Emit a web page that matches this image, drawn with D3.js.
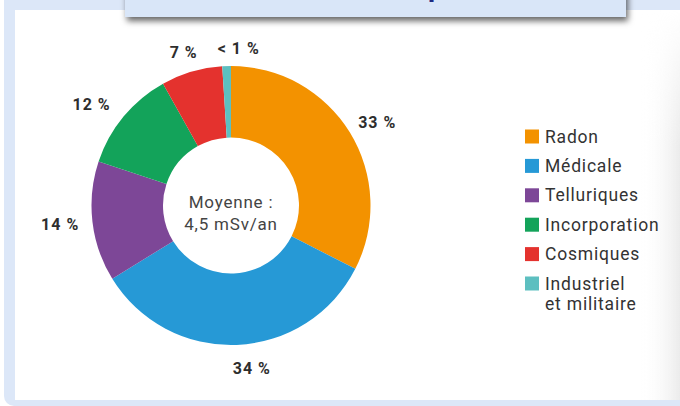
<!DOCTYPE html>
<html><head><meta charset="utf-8">
<script src="https://cdn.jsdelivr.net/npm/d3@7"></script>
<style>html,body{margin:0;padding:0;background:#fff;}svg{display:block;}</style>
</head><body>
<svg id="chart" width="680" height="406"></svg>
<script>
const categories = ["Radon", "Médicale", "Telluriques", "Incorporation", "Cosmiques", "Industriel et militaire"];
const values = [32.5, 33.7, 13.9, 11.8, 7.1, 1.0];
const valueLabels = ["33 %", "34 %", "14 %", "12 %", "7 %", "< 1 %"];
const legendLines = [["Radon"], ["Médicale"], ["Telluriques"], ["Incorporation"], ["Cosmiques"], ["Industriel", "et militaire"]];
const colors = ["#f39200", "#2699d6", "#7d4797", "#13a35a", "#e4322e", "#5dbfc0"];
const centerLines = ["Moyenne :", "4,5 mSv/an"];
const titleText = "Sources d'exposition";

// label nudges (layout only)
const labelNudge = [[3, 5], [14, -5], [-4, 0], [-10, 6], [0, 8], [13, 11]];

const svg = d3.select("#chart");
const defs = svg.append("defs");
const shadow = defs.append("filter").attr("id", "sh").attr("x", "-10%").attr("y", "-50%").attr("width", "120%").attr("height", "250%");
shadow.append("feDropShadow").attr("dx", 2).attr("dy", 4).attr("stdDeviation", 3).attr("flood-color", "#000").attr("flood-opacity", 0.6);
const grad = defs.append("linearGradient").attr("id", "rg").attr("x1", 0).attr("x2", 1).attr("y1", 0).attr("y2", 0);
grad.append("stop").attr("offset", 0).attr("stop-color", "#fff").attr("stop-opacity", 0);
grad.append("stop").attr("offset", 1).attr("stop-color", "#ebebeb").attr("stop-opacity", 1);
const vgrad = defs.append("linearGradient").attr("id", "vg").attr("x1", 0).attr("x2", 0).attr("y1", 0).attr("y2", 1);
vgrad.append("stop").attr("offset", 0).attr("stop-color", "#fff").attr("stop-opacity", 0);
vgrad.append("stop").attr("offset", 0.35).attr("stop-color", "#fff").attr("stop-opacity", 1);
vgrad.append("stop").attr("offset", 1).attr("stop-color", "#fff").attr("stop-opacity", 1);
const mask = defs.append("mask").attr("id", "vm").attr("maskUnits", "userSpaceOnUse")
  .attr("x", 600).attr("y", 0).attr("width", 80).attr("height", 406);
mask.append("rect").attr("x", 600).attr("y", 10).attr("width", 80).attr("height", 390).attr("fill", "url(#vg)");

// frame
svg.append("rect").attr("x", 4).attr("y", -12).attr("width", 700).attr("height", 418).attr("rx", 10).attr("fill", "#dce7f8");
svg.append("rect").attr("x", 15).attr("y", 10).attr("width", 670).attr("height", 390).attr("fill", "#fff");
svg.append("rect").attr("x", 640).attr("y", 10).attr("width", 40).attr("height", 390).attr("fill", "url(#rg)").attr("mask", "url(#vm)");

// title box
svg.append("rect").attr("x", 125).attr("y", -20).attr("width", 501).attr("height", 37).attr("fill", "#d9e6f8").attr("filter", "url(#sh)");
const tt = svg.append("text").attr("y", -4).attr("font-family", "Roboto, sans-serif").attr("font-weight", 700)
  .attr("font-size", 28).attr("fill", "#1f2a80").text(titleText);
const pIdx = titleText.indexOf("p");
const pre = tt.node().getSubStringLength(0, pIdx);
tt.attr("x", 428 - pre);

// donut
const cx = 231, cy = 205.5, rOuter = 139.5, rInner = 68;
const g = svg.append("g").attr("transform", `translate(${cx},${cy})`);
const pie = d3.pie().sort(null).value(d => d);
const arcs = pie(values);
const arc = d3.arc().innerRadius(rInner).outerRadius(rOuter);
g.selectAll("path.slice").data(arcs).join("path").attr("class", "slice")
  .attr("d", arc).attr("fill", (d, i) => colors[i]);

const labelArc = d3.arc().innerRadius(168).outerRadius(168);
g.selectAll("text.lbl").data(arcs).join("text").attr("class", "lbl")
  .attr("x", (d, i) => labelArc.centroid(d)[0] + labelNudge[i][0])
  .attr("y", (d, i) => labelArc.centroid(d)[1] + labelNudge[i][1])
  .attr("text-anchor", "middle").attr("dominant-baseline", "central")
  .attr("font-family", "Roboto, sans-serif").attr("font-weight", 700).attr("font-size", 16)
  .attr("letter-spacing", 1).attr("fill", "#2e2e2e")
  .text((d, i) => valueLabels[i]);

g.selectAll("text.ctr").data(centerLines).join("text").attr("class", "ctr")
  .attr("x", 0).attr("y", (d, i) => 2 + i * 22)
  .attr("text-anchor", "middle")
  .attr("font-family", "Roboto, sans-serif").attr("font-size", 17).attr("letter-spacing", 0.8)
  .attr("fill", "#444").text(d => d);

// legend
const ly = d3.scalePoint().domain(categories).range([136.5, 283.5]);
const lg = svg.append("g");
const items = lg.selectAll("g.item").data(categories).join("g").attr("class", "item")
  .attr("transform", d => `translate(525,${ly(d)})`);
items.append("rect").attr("x", 0).attr("y", -7).attr("width", 14).attr("height", 14)
  .attr("fill", (d, i) => colors[i]);
items.each(function(d, i) {
  d3.select(this).selectAll("text").data(legendLines[i]).join("text")
    .attr("x", 20).attr("y", (t, j) => 6 + j * 20)
    .attr("font-family", "Roboto, sans-serif").attr("font-size", 17.5).attr("letter-spacing", 0.8)
    .attr("fill", "#333").text(t => t);
});
</script>
</body></html>
